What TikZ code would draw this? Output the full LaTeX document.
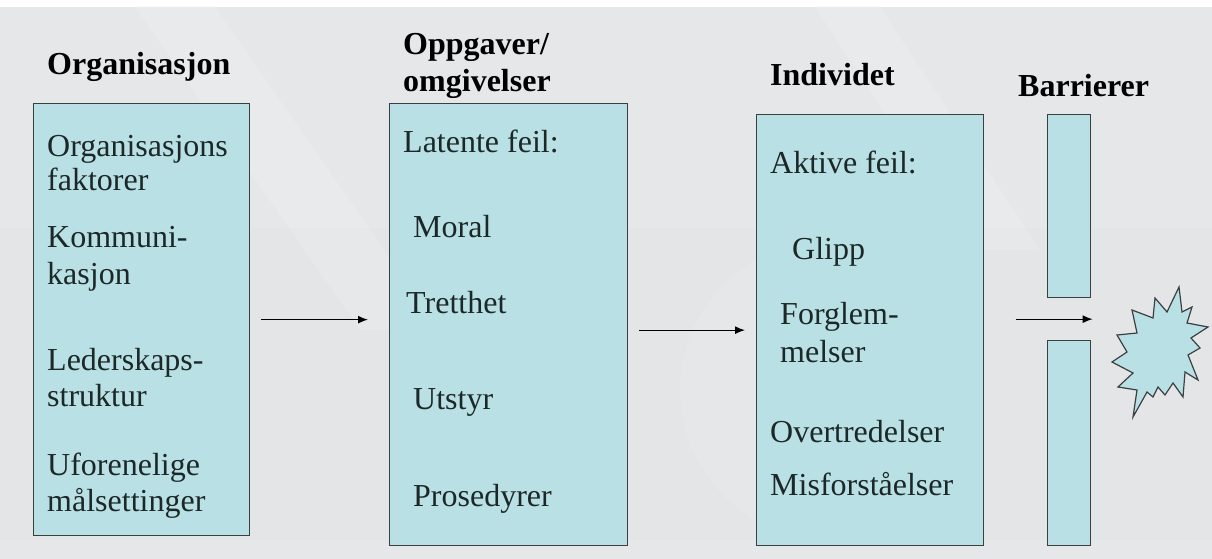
\documentclass[tikz,border=0pt]{standalone}
\usepackage{fontspec}
\setmainfont{Liberation Serif}
\usetikzlibrary{arrows.meta,calc}
\definecolor{bgc}{HTML}{E6E7E9}
\definecolor{bgl}{HTML}{E9EAEC}
\definecolor{boxfill}{HTML}{B9E0E4}
\definecolor{boxline}{HTML}{3C3F40}
\definecolor{txt}{HTML}{1C2828}
\tikzset{
  box/.style={draw=boxline, fill=boxfill, line width=1.3pt, anchor=north west, inner sep=0pt},
  ttl/.style={anchor=base west, inner sep=0pt, font=\fontsize{32}{34}\selectfont\bfseries, text=black},
  itm/.style={anchor=base west, inner sep=0pt, font=\fontsize{32}{34}\selectfont, text=txt},
  arr/.style={line width=1.3pt, draw=black, -{Latex[length=10pt,width=8pt]}},
}
\begin{document}
\begin{tikzpicture}[x=1pt,y=-1pt]
\useasboundingbox (0,0) rectangle (1212,559);
% background
\fill[white] (0,0) rectangle (1212,559);
\fill[bgc] (0,7) rectangle (1212,559);
\fill[bgl] (135,7) -- (215,7) -- (440,330) -- (360,330) -- cycle;
\fill[bgl] (815,7) -- (880,7) -- (1040,250) -- (975,250) -- cycle;
\fill[bgl!60!bgc] (830,390) circle[radius=150];
\fill[bgc!97!black, opacity=0.2] (0,228) rectangle (1212,540);
% boxes
\node[box, minimum width=216pt, minimum height=432pt] (b1) at (33,103) {};
\node[box, minimum width=238pt, minimum height=442pt] (b2) at (389,103) {};
\node[box, minimum width=227pt, minimum height=431pt] (b3) at (756,114) {};
\node[box, minimum width=43pt, minimum height=183pt] (bt) at (1047,114) {};
\node[box, minimum width=43pt, minimum height=205pt] (bb) at (1047,340) {};
% titles
\node[ttl] (t1) at (47,75) {Organisasjon};
\node[ttl] (t2a) at (403,55) {Oppgaver/};
\node[ttl] (t2b) at (403,92) {omgivelser};
\node[ttl] (t3) at (770,86) {Individet};
\node[ttl] (t4) at (1018,97) {Barrierer};
% box 1 items
\node[itm] (o1) at (47,156) {Organisasjons};
\node[itm] (o2) at (47,190) {faktorer};
\node[itm] (o3) at (47,247) {Kommuni-};
\node[itm] (o4) at (47,284) {kasjon};
\node[itm] (o5) at (47,370) {Lederskaps-};
\node[itm] (o6) at (47,406) {struktur};
\node[itm] (o7) at (47,475) {Uforenelige};
\node[itm] (o8) at (47,511) {målsettinger};
% box 2 items
\node[itm] (p1) at (403,152) {Latente feil:};
\node[itm] (p2) at (413,237) {Moral};
\node[itm] (p3) at (406,313) {Tretthet};
\node[itm] (p4) at (413,409) {Utstyr};
\node[itm] (p5) at (413,506) {Prosedyrer};
% box 3 items
\node[itm] (i1) at (770,173) {Aktive feil:};
\node[itm] (i2) at (792,259) {Glipp};
\node[itm] (i3) at (780,324) {Forglem-};
\node[itm] (i4) at (780,362) {melser};
\node[itm] (i5) at (770,442) {Overtredelser};
\node[itm] (i6) at (770,495) {Misforståelser};
% star (explosion)
\draw[draw=boxline, fill=boxfill, line width=1.2pt, line join=miter]
  (1179,287) -- (1182,312) -- (1192,307) -- (1187,323) -- (1208,327) -- (1191,338)
  -- (1200,348) -- (1188,355) -- (1198,380) -- (1185,372) -- (1183,397) -- (1173,383)
  -- (1165,395) -- (1158,387) -- (1153,397) -- (1147,392) -- (1133,417) -- (1137,390)
  -- (1118,387) -- (1133,373) -- (1112,362) -- (1127,352) -- (1117,335) -- (1137,333)
  -- (1132,310) -- (1153,318) -- (1155,298) -- (1167,312) -- cycle;
% connectors
\coordinate (gap) at ($(bt.south)!0.5!(bb.north)$);
\coordinate (gs) at ([xshift=-53.5pt]gap);
\coordinate (ge) at ([xshift=23.5pt]gap);
\draw[arr] ([xshift=11pt]b1.east) -- ([xshift=-21pt]b2.west |- b1.east);
\draw[arr] ([xshift=11pt]b2.east |- b3.west) -- ([xshift=-11pt]b3.west);
\draw[arr] (gs) -- (ge);
\end{tikzpicture}
\end{document}
